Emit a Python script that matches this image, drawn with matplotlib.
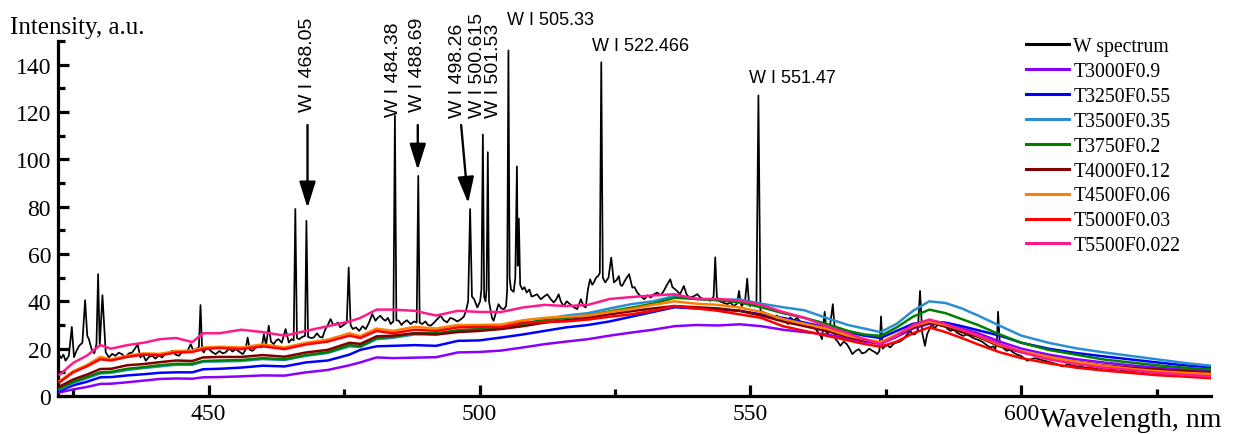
import matplotlib
matplotlib.use("Agg")
import matplotlib.pyplot as plt
from matplotlib.ticker import MultipleLocator

# ---------------- data ----------------
series_labels = ["W spectrum", "T3000F0.9", "T3250F0.55", "T3500F0.35", "T3750F0.2",
                 "T4000F0.12", "T4500F0.06", "T5000F0.03", "T5500F0.022"]

black_wl = [422.3, 422.8, 423.2, 423.6, 424.2, 424.75, 425.15, 425.6, 426.1, 426.7, 427.2, 427.6, 427.9, 428.4,
            428.9, 429.3, 429.6, 429.9, 430.4, 431.0, 431.6, 432.2, 432.8, 433.4, 434.0, 434.6, 435.3, 435.9,
            436.4, 436.9, 437.4, 437.9, 438.4, 439.0, 439.6, 440.2, 440.8, 441.4, 442.0, 442.6, 443.3, 443.9,
            444.5, 445.1, 445.8, 446.3, 446.7, 447.2, 447.6, 448.2, 448.5, 448.8, 449.1, 449.6, 450.0, 450.7,
            451.3, 452.0, 452.6, 453.1, 453.8, 454.4, 455.0, 455.6, 456.3, 456.8, 457.2, 457.6, 458.1, 458.7,
            459.3, 459.8, 460.2, 460.6, 461.1, 461.5, 462.0, 462.5, 462.9, 463.5, 464.2, 464.8, 465.3, 465.7,
            466.0, 466.3, 466.7, 467.3, 467.8, 468.05, 468.35, 468.9, 469.4, 470.0, 470.5, 471.0, 471.5, 472.0,
            472.5, 473.0, 473.4, 473.9, 474.3, 474.9, 475.5, 475.85, 476.2, 476.6, 477.2, 477.8, 478.4, 479.0,
            479.6, 480.2, 480.8, 481.2, 481.7, 482.2, 482.6, 483.1, 483.6, 484.1, 484.38, 484.65, 485.1, 485.6,
            486.0, 486.6, 487.3, 487.9, 488.4, 488.69, 488.95, 489.4, 490.0, 490.5, 491.0, 491.6, 492.2, 492.8,
            493.4, 494.0, 494.6, 495.2, 495.9, 496.6, 497.1, 497.5, 497.9, 498.26, 498.6, 499.0, 499.6, 500.1,
            500.35, 500.615, 500.85, 501.1, 501.3, 501.53, 501.75, 501.9, 502.3, 502.6, 503.0, 503.5, 504.0,
            504.5, 504.9, 505.1, 505.33, 505.55, 505.8, 506.3, 506.6, 506.9, 507.05, 507.25, 507.5, 507.9,
            508.3, 508.7, 509.2, 509.6, 510.0, 510.6, 511.3, 511.9, 512.5, 513.1, 513.7, 514.2, 514.6, 515.0,
            515.5, 516.1, 516.7, 517.4, 518.0, 518.4, 518.7, 519.2, 519.6, 520.0, 520.4, 520.8, 521.1, 521.5,
            521.9, 522.2, 522.466, 522.75, 523.2, 523.8, 524.3, 524.8, 525.3, 525.7, 526.0, 526.3, 526.9, 527.6,
            528.2, 528.6, 529.1, 529.8, 530.4, 531.0, 531.6, 532.2, 532.8, 533.4, 534.0, 534.6, 535.2, 535.6,
            536.1, 536.6, 537.0, 537.4, 537.7, 538.2, 538.7, 539.4, 540.2, 540.8, 541.4, 542.0, 542.6, 543.2,
            543.5, 543.8, 544.1, 544.9, 545.7, 546.3, 546.9, 547.5, 547.9, 548.2, 548.4, 549.0, 549.4, 549.7,
            549.9, 550.5, 551.1, 551.47, 551.85, 552.5, 553.4, 554.3, 554.9, 555.5, 556.3, 557.0, 557.3, 558.0,
            558.6, 559.3, 560.2, 561.1, 561.7, 562.3, 562.8, 563.2, 563.7, 564.1, 564.6, 565.2, 565.7, 566.1,
            566.6, 567.2, 567.8, 568.3, 568.8, 569.4, 570.0, 570.6, 571.2, 571.9, 572.5, 573.0, 573.4, 573.8,
            574.1, 574.4, 574.6, 575.2, 575.8, 576.4, 577.0, 577.6, 578.2, 578.9, 579.5, 580.0, 580.4, 580.9,
            581.3, 581.7, 582.2, 582.6, 583.1, 583.5, 584.0, 584.4, 585.0, 585.7, 586.3, 586.9, 587.5, 588.1,
            588.7, 589.3, 589.9, 590.5, 591.1, 591.7, 592.3, 593.0, 593.6, 594.3, 594.8, 595.2, 595.5, 595.7,
            596.0, 596.3, 596.8, 597.3, 597.9, 598.5, 599.2, 599.9, 600.5, 601.1, 601.8, 602.5, 603.3, 604.1,
            604.9, 605.7, 606.5, 607.2, 607.8, 608.6, 609.4, 610.2, 611.0, 611.8, 612.6, 613.5, 614.3, 615.1,
            616.0, 617.0, 618.0, 619.0, 620.0, 620.8, 621.8, 622.8, 623.9, 625.0, 626.0, 627.0, 628.0, 628.7,
            629.6, 630.5, 631.5, 632.5, 633.5, 634.8]
black_I = [17.7, 16, 17.5, 14.9, 17, 29.2, 16.4, 19, 21.2, 22.5, 40.5, 25.4, 24, 19.8,
           18, 22, 51.5, 21, 42.6, 18.5, 16.3, 17.8, 17, 18.3, 17.7, 16.5, 18, 18.4,
           20, 21.9, 16.3, 17.5, 14.9, 16.5, 17, 15.8, 17.2, 16.3, 17.8, 18, 19.1, 17.5,
           17, 18.5, 18.4, 20, 21.9, 19, 19.8, 20.5, 38.4, 19.5, 18.4, 20.5, 19.8, 18.5,
           17.7, 19, 18, 18.4, 20, 18.8, 19.8, 18.8, 17.7, 19.5, 24.7, 19.5, 19.1, 20.5,
           21.2, 20.5, 26.1, 21.5, 29.7, 23, 21.9, 23.5, 24, 22.5, 28.3, 22.6, 24, 23.5,
           79, 24.5, 24, 25, 25.4, 74, 25, 24.5, 24.7, 26.5, 25, 24.7, 28, 30,
           32.5, 30, 30.4, 31, 29, 30, 31, 54.3, 30, 28.3, 29, 27.5, 29.5, 28.3,
           31, 34.6, 31.8, 33, 33.9, 32.5, 31.8, 33, 30.4, 31.5, 118.5, 32, 31.8, 30,
           31.1, 32, 30.4, 31.5, 31, 93, 31, 30.4, 31.5, 30, 29.7, 31, 32.5, 33.9,
           32, 31.1, 33, 32.5, 31.5, 32.5, 33.5, 36, 40, 79, 42, 40.9, 37.4, 40,
           45, 110.5, 42, 40, 45, 103, 40, 38, 33, 31.8, 35, 38.8, 37,
           36.7, 38, 45, 146, 50, 45, 44, 50, 97, 55, 75, 47, 45,
           46, 43.7, 45, 42, 42.3, 43, 40.9, 42, 43, 41, 39.5, 41, 43, 40,
           38, 40, 38.8, 37.5, 36.7, 39, 40.9, 38, 37.4, 45, 49.3, 47, 48, 50,
           50.7, 52, 141, 50, 48, 50, 58.5, 48, 49, 50.7, 47, 46.5, 49, 51.5,
           45.8, 46, 43.7, 42, 40.9, 42.5, 41.6, 43, 43.7, 42.5, 44.4, 47, 49.3, 46,
           45.1, 44, 43, 45, 46.5, 43, 41.6, 42, 43, 41.5, 40.9, 41, 40.2, 42,
           58.6, 42, 40.2, 39.5, 38.8, 39.5, 38, 39, 44.4, 39, 38, 40, 49.6, 40,
           38, 39, 38, 127, 36, 35.3, 34.5, 33.2, 34, 32.5, 31.5, 30.4, 33.2, 32,
           33, 31.1, 30.5, 29.7, 29, 27.5, 26, 24, 35.6, 25.4, 28, 38.8, 24, 23,
           21.2, 23, 21.9, 20, 17.7, 19, 19.8, 18, 18.4, 20, 19.1, 18.5, 17.7, 19,
           33.6, 20, 20.5, 21.5, 20.5, 22, 22.6, 23, 24, 26, 27.5, 26, 26.1, 28,
           44.4, 26.8, 21.2, 26.1, 28.5, 30.4, 28.5, 29.7, 31, 30.4, 28.5, 27.5, 28, 26.8,
           26, 25.4, 26, 25.4, 24.5, 24, 23.5, 22.6, 21.5, 20.5, 21, 19.8, 24, 35.6,
           23, 21.2, 20, 19.1, 19.5, 18.4, 17.5, 17, 16, 14.9, 15.5, 16, 15.5, 15,
           14.5, 14, 13.5, 12.8, 12.5, 13.5, 12.8, 12.5, 12.6, 11.8, 12.3, 11.5, 12, 11.6,
           11.5, 11, 11.2, 10.5, 10.6, 10.3, 10.4, 9.8, 10, 9.5, 9.3, 9.6, 9, 9,
           9.2, 8.8, 9, 8.6, 8.7, 8.6]

model_wl = [422.5, 425, 427.5, 430, 432, 435, 438, 441, 444, 447, 449, 452, 456, 460, 464, 468, 472, 476,
            478, 481, 484, 488, 492, 496, 500, 504, 508, 512, 516, 520, 524, 528, 532, 536, 540, 544, 548,
            552, 556, 560, 564, 568, 571, 574, 577, 580, 583, 586, 589, 592, 596, 600, 605, 610, 615, 620,
            625, 630, 635]

T3000F09 = [1.5, 2.8, 3.8, 5.1, 5.2, 5.8, 6.5, 7.2, 7.4, 7.3, 7.9, 8, 8.3, 8.7, 8.6, 10, 11, 13,
            14.2, 16.3, 16, 16.2, 16.4, 18.4, 18.6, 19.2, 20.5, 21.9, 23, 24, 25.5, 26.8, 28, 29.5, 30, 29.8, 30.3,
            29.5, 28, 27, 26, 24.3, 23, 22, 25, 28.5, 30.5, 30.5, 28.5, 26.5, 23, 20, 17.5, 15.6, 14.2, 13,
            12, 11.2, 10.7]
T3250F055 = [2.2, 4.5, 6, 7.9, 8, 8.7, 9.2, 9.8, 10, 10, 11.3, 11.5, 12, 12.8, 12.5, 14.2, 15, 17.5,
             19.5, 21, 21.2, 21.5, 21.2, 23.3, 23.5, 24.7, 26, 27.5, 29, 30, 31.5, 33.5, 35.5, 37.5, 37, 36.5, 36,
             34.5, 33, 31, 29, 27, 25.5, 24.5, 27.5, 30.5, 31.5, 31, 29.5, 27.8, 25.5, 22.5, 20, 18.2, 16.8, 15.5,
             14.2, 13, 12.1]
T3500F035 = [2.8, 5.5, 7.5, 9.5, 9.8, 11, 11.8, 12.5, 13.2, 13.2, 14.5, 14.6, 14.8, 15.6, 15.2, 17, 18.2, 21,
             20.7, 24, 24.6, 26, 26, 27.5, 28, 28.8, 30.5, 32.5, 34, 35, 37, 38.8, 40, 42.3, 41, 40.5, 40.8,
             39, 37.5, 36.2, 33, 30, 28.5, 27, 30.5, 36, 40, 39.3, 37, 34, 29.7, 25.5, 22.5, 20.2, 18.5, 17,
             15.5, 14, 12.8]
T3750F02 = [3.2, 6, 8, 10, 10.2, 11.5, 12.2, 13, 13.6, 13.6, 14.8, 15, 15.2, 16, 15.5, 17.3, 18.5, 21.5,
            21, 24.5, 25, 26.5, 26.5, 27.8, 28.3, 29, 30.5, 32, 33, 34, 35.8, 37.3, 39, 41.5, 41, 40.5, 39.5,
            37.5, 35, 33, 30.5, 27.5, 26, 25.4, 29, 33.5, 36.5, 35, 32.5, 30, 26, 22.5, 19.5, 17.5, 15.5, 14.2,
            13, 12, 11.2]
T4000F012 = [4, 7, 9, 11.4, 11.5, 13, 13.5, 14.3, 15, 14.8, 16.3, 16.5, 16.5, 17.3, 16.6, 18.4, 19.5, 22.5,
             22, 25.2, 25.5, 26.5, 26, 27, 27.5, 28.3, 29.5, 31, 32, 33, 34.5, 35.8, 37, 38, 37.5, 37, 36,
             34, 31.5, 29.5, 27.5, 25, 23.5, 22.5, 25.5, 29, 31, 29.3, 27, 25, 21, 18.5, 16.5, 14.5, 13, 12,
             11.2, 10.5, 10]
T4500F006 = [6.3, 10.5, 13, 16.5, 15.5, 17, 18, 17.8, 19, 19.2, 20.5, 20.8, 20.5, 21.8, 20.5, 22.5, 23.8, 26.5,
             25.3, 28.5, 27.5, 29.2, 28.5, 30, 30, 30.2, 32, 33, 33.5, 34, 35.5, 36.7, 38.5, 40, 39, 38.5, 37.4,
             35.5, 32.5, 30.5, 28.5, 25.5, 24, 22.8, 26, 29.5, 31.5, 30, 28, 25.5, 21.5, 19, 16.5, 14.5, 12.8, 11.5,
             10.5, 9.8, 9.3]
T5000F003 = [5.8, 10, 12.5, 15.5, 15, 16.5, 17.5, 17.2, 18.4, 18.6, 19.8, 20.3, 19.8, 21, 19.8, 21.8, 23, 25.5,
             24.5, 27.5, 26.5, 28, 27.5, 29, 29.2, 29.2, 31, 31.3, 31.5, 32.3, 33.5, 34.5, 36, 38, 37, 36, 34.5,
             33, 29.5, 27.5, 25.5, 23.5, 22, 20.8, 23, 26.5, 29, 27, 24.5, 21.8, 18.5, 16, 13.8, 12, 10.8, 9.8,
             8.8, 8.2, 7.5]
T5500F0022 = [9, 14, 17, 21.5, 20, 21.5, 22.5, 24, 24.5, 22.8, 26.5, 26.5, 28, 27, 25.5, 27.5, 29.5, 31.5,
              33, 36.5, 36.5, 36, 34, 36, 35.5, 35.5, 37.4, 38.5, 38, 38.5, 41, 41.8, 42.5, 43, 41, 41, 40.3,
              38.5, 35.5, 33, 29.5, 26.5, 24, 22, 25.5, 30, 32.3, 30.5, 28, 25.7, 22, 18.5, 15.5, 13.5, 12, 11,
              9.8, 9, 8.3]

model_series = [T3000F09, T3250F055, T3500F035, T3750F02, T4000F012, T4500F006, T5000F003, T5500F0022]
colors = ["#000000", "#8a00ff", "#0000ff", "#2a8fd0", "#008000", "#800000", "#ff8000", "#ff0000", "#ff1a8c"]

x_ticks = [450, 500, 550, 600]
y_ticks = [0, 20, 40, 60, 80, 100, 120, 140]

# annotations: label, text anchor (x, y), rotation, arrow (start, tip) or None
annotations = [
    ("W I 468.05", (468.25, 120.5), 90, ((468.25, 114.5), (468.25, 79.5))),
    ("W I 484.38", (484.2, 118.5), 90, None),
    ("W I 488.69", (488.5, 120.5), 90, ((488.6, 114.5), (488.6, 95.5))),
    ("W I 498.26", (496.0, 118.0), 90, ((496.6, 114.5), (497.9, 81.5))),
    ("W I 500.615", (499.6, 118.0), 90, None),
    ("W I 501.53", (502.5, 118.0), 90, None),
    ("W I 505.33", (505.0, 159.0), 0, None),
    ("W I 522.466", (520.8, 148.0), 0, None),
    ("W I 551.47", (549.8, 134.5), 0, None),
]

# ---------------- figure ----------------
W, H = 1233, 435
fig = plt.figure(figsize=(W / 100, H / 100), dpi=100)
ax = fig.add_axes([58 / W, 1 - 397 / H, (1211 - 58) / W, (397 - 42) / H])

serif = "Liberation Serif"
sans = "Liberation Sans"

ax.plot(black_wl, black_I, color=colors[0], lw=1.25, label=series_labels[0], zorder=2)
for vals, c, lab in zip(model_series, colors[1:], series_labels[1:]):
    ax.plot(model_wl, vals, color=c, lw=1.8, label=lab, zorder=3)

ax.set_xlim(422.2, 635)
ax.set_ylim(0, 150)
ax.set_xticks(x_ticks)
ax.set_yticks(y_ticks)
ax.xaxis.set_minor_locator(MultipleLocator(25))
ax.yaxis.set_minor_locator(MultipleLocator(10))
for s in ["top", "right"]:
    ax.spines[s].set_visible(False)
for s in ["left", "bottom"]:
    ax.spines[s].set_linewidth(2.3)
ax.tick_params(which="major", direction="in", length=8, width=2.3, labelsize=17, pad=5)
ax.tick_params(which="minor", direction="in", length=5, width=2.3)
for lbl in ax.get_xticklabels() + ax.get_yticklabels():
    lbl.set_fontfamily(serif)

fig.text(10 / W, 1 - 28 / H, "Intensity, a.u.", fontsize=18, family=serif, va="center", ha="left")
fig.text(1040 / W, 1 - 421 / H, "Wavelength, nm", fontsize=20, family=serif, va="center", ha="left")

for text, pos, rot, arrow in annotations:
    if rot == 90:
        ax.text(pos[0], pos[1], text, rotation=90, ha="center", va="bottom", fontsize=14,
                family=sans, clip_on=False)
    else:
        ax.text(pos[0], pos[1], text, rotation=0, ha="left", va="center", fontsize=13,
                family=sans, clip_on=False)
    if arrow is not None:
        ax.annotate("", xy=arrow[1], xytext=arrow[0],
                    arrowprops=dict(arrowstyle="-|>,head_length=0.8,head_width=0.25",
                                    color="black", lw=1.7, shrinkA=0, shrinkB=0,
                                    mutation_scale=20))

leg = ax.legend(loc="upper left", bbox_to_anchor=(1026 / W, 1 - 38 / H),
                bbox_transform=fig.transFigure, frameon=False,
                prop={"family": serif, "size": 14.2}, handlelength=2.2,
                handletextpad=0.2, labelspacing=0.3, borderaxespad=0, borderpad=0)
for line in leg.get_lines():
    line.set_linewidth(2.2)

fig.savefig("out.png", dpi=100)
